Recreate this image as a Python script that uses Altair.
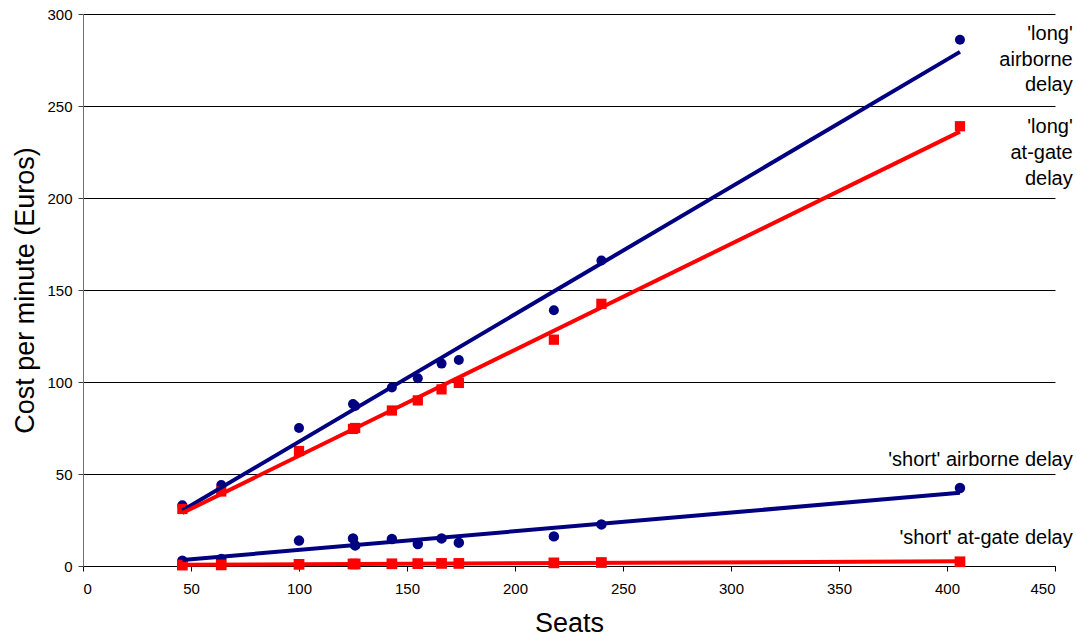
import altair as alt
import pandas as pd

# Aircraft size (seats) and the cost per minute of each delay type
seats = [46, 64, 100, 125, 126, 143, 155, 166, 174, 218, 240, 406]
long_airborne = [33, 44, 75, 88, 87, 97, 102, 110, 112, 139, 166, 286]
long_at_gate = [31, 40.5, 62.5, 74.5, 75, 84.5, 90, 96, 99.5, 123, 142.5, 239]
short_airborne = [2.9, 3.8, 13.8, 15, 11.2, 14.7, 12, 15, 12.7, 16.1, 22.6, 42.4]
short_at_gate = [0.5, 0.6, 0.9, 1.1, 1.1, 1.2, 1.3, 1.4, 1.4, 1.7, 1.9, 2.3]

series_names = ["long airborne", "long at-gate", "short airborne", "short at-gate"]
series_values = [long_airborne, long_at_gate, short_airborne, short_at_gate]
series_colors = ["#000080", "#FF0000", "#000080", "#FF0000"]
series_shapes = ["circle", "square", "circle", "square"]
marker_sizes = [100, 115, 100, 115]

# Series labels at the right-hand end of each trend line
label_lines = ["'long'", "airborne", "delay",
               "'long'", "at-gate", "delay",
               "'short' airborne delay",
               "'short' at-gate delay"]
label_y = [286, 272, 258, 235.4, 221.3, 207.2, 54.5, 12.1]
label_x = [458.2] * len(label_lines)

x_ticks = list(range(0, 451, 50))
y_ticks = list(range(0, 301, 50))

rows = []
for name, vals in zip(series_names, series_values):
    for s, v in zip(seats, vals):
        rows.append({"seats": s, "cost": v, "series": name})
df = pd.DataFrame(rows)
labels = pd.DataFrame({"x": label_x, "y": label_y, "text": label_lines})

FONT = "Liberation Sans"

x_scale = alt.Scale(domain=[0, 450], nice=False)
y_scale = alt.Scale(domain=[0, 300], nice=False)
color = alt.Color("series:N", scale=alt.Scale(domain=series_names, range=series_colors), legend=None)
shape = alt.Shape("series:N", scale=alt.Scale(domain=series_names, range=series_shapes), legend=None)
size = alt.Size("series:N", scale=alt.Scale(domain=series_names, range=marker_sizes), legend=None)

x_axis = alt.Axis(values=x_ticks, title="Seats", grid=False, labelFont=FONT, labelFontSize=15,
                  labelColor="black", labelPadding=10, tickColor="black", tickSize=5,
                  domainColor="black", titleFont=FONT, titleFontSize=27, titleFontWeight="normal",
                  titleColor="black", titleX=486, titleY=65, titleBaseline="alphabetic",
                  titleAlign="center")
y_axis = alt.Axis(values=y_ticks, title="Cost per minute (Euros)", grid=True, gridColor="black",
                  gridWidth=1, gridOpacity=1, labelFont=FONT, labelFontSize=15, labelColor="black",
                  labelPadding=6, tickColor="#404040", tickSize=5, domainColor="#707070",
                  titleFont=FONT, titleFontSize=27, titleFontWeight="normal", titleColor="black",
                  titleAngle=270, titleX=-50, titleY=276, titleBaseline="alphabetic",
                  titleAlign="center")

base = alt.Chart(df)

points = base.mark_point(filled=True, opacity=1).encode(
    x=alt.X("seats:Q", scale=x_scale, axis=x_axis),
    y=alt.Y("cost:Q", scale=y_scale, axis=y_axis),
    color=color,
    shape=shape,
    size=size,
)

trend = base.transform_regression(
    "seats", "cost", groupby=["series"]
).mark_line(strokeWidth=4).encode(
    x=alt.X("seats:Q", scale=x_scale),
    y=alt.Y("cost:Q", scale=y_scale),
    color=color,
    detail="series:N",
)

text = alt.Chart(labels).mark_text(
    align="right", baseline="alphabetic", font=FONT, fontSize=20, color="black"
).encode(
    x=alt.X("x:Q", scale=x_scale),
    y=alt.Y("y:Q", scale=y_scale),
    text="text:N",
)

chart = alt.layer(points, trend, text).properties(
    width=972,
    height=552,
    autosize=alt.AutoSizeParams(type="none"),
    padding={"left": 83, "top": 14, "right": 22, "bottom": 71},
    background="white",
).configure_view(stroke=None)

chart.save("out.html", embed_options={"renderer": "svg", "actions": False})
